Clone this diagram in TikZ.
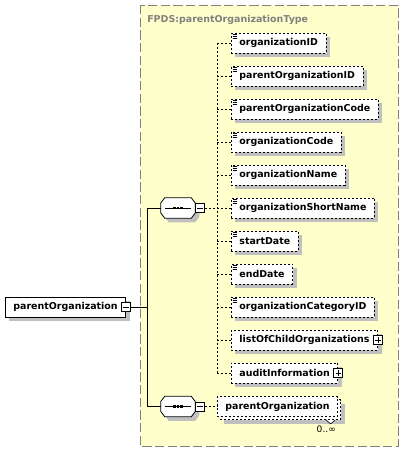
\documentclass[tikz,border=0pt]{standalone}
\usepackage{fontspec}
\setmainfont{DejaVu Sans}
\usetikzlibrary{shadows}

\definecolor{typebg}{RGB}{255,255,204}
\definecolor{typeline}{RGB}{128,128,128}
\definecolor{shadowgray}{RGB}{192,192,192}

\tikzset{
  boxfont/.style={font=\fontsize{7.1}{8}\selectfont\bfseries},
  boxshadow/.style={drop shadow={shadow xshift=3pt, shadow yshift=-3pt, fill=shadowgray, opacity=1}},
  elembase/.style={draw, fill=white, anchor=west, minimum height=15pt,
    inner xsep=6pt, inner ysep=0pt, line width=0.6pt, boxfont},
  elem/.style={elembase, dash pattern=on 1.5pt off 1.5pt, boxshadow},
  rootelem/.style={elembase, boxshadow},
  repelem/.style={elembase, dash pattern=on 1.5pt off 1.5pt,
    drop shadow={shadow xshift=5.25pt, shadow yshift=-5.25pt, fill=shadowgray, opacity=1},
    copy shadow={shadow xshift=2.25pt, shadow yshift=-2.25pt}},
  seqbox/.style={rectangle, minimum width=25.5pt, minimum height=15pt, inner sep=0pt},
  seqline/.style={draw, fill=white, line width=0.6pt, boxshadow},
  minusbox/.style={draw, fill=white, minimum size=6.75pt, inner sep=0pt, line width=0.5pt,
    path picture={\draw ([xshift=1.3pt]path picture bounding box.west) -- ([xshift=-1.3pt]path picture bounding box.east);}},
  plusbox/.style={minusbox,
    path picture={\draw ([xshift=1.3pt]path picture bounding box.west) -- ([xshift=-1.3pt]path picture bounding box.east);
      \draw ([yshift=-1.3pt]path picture bounding box.north) -- ([yshift=1.3pt]path picture bounding box.south);}},
  link/.style={line width=0.6pt, dash pattern=on 1.5pt off 1.5pt},
  trunkline/.style={line width=0.6pt},
  typebox/.style={fill=typebg, draw=typeline, line width=0.75pt, dash pattern=on 7pt off 2.5pt},
  typetitle/.style={boxfont, text=typeline, anchor=west, inner sep=0pt},
  occurs/.style={font=\fontsize{6.8}{7}\selectfont, inner sep=0pt}
}

\begin{document}
\begin{tikzpicture}[x=0.75pt, y=-0.75pt]
    \useasboundingbox (0,0) rectangle (405,451);

    % Typ-Rahmen
    \draw[typebox] (140,5) rectangle (398,446);
    \node[typetitle] (title) at (147,20) {FPDS:parentOrganizationType};

    % Wurzelelement
    \node[rootelem] (root) at (5,307) {parentOrganization\hspace{3.75pt}};
    \node[minusbox] (rootm) at (root.east) {};

    % Sequenzen
    \node[seqbox] (s1) at (178,208) {};
    \node[seqbox] (s2) at (178,406.5) {};
    \foreach \s in {s1,s2} {
        \draw[seqline] ([xshift=3pt]\s.north west) -- ([xshift=-3pt]\s.north east)
            -- ([yshift=-4pt]\s.north east) -- ([yshift=4pt]\s.south east)
            -- ([xshift=-3pt]\s.south east) -- ([xshift=3pt]\s.south west)
            -- ([yshift=4pt]\s.south west) -- ([yshift=-4pt]\s.north west) -- cycle;
        \draw[line width=0.6pt] ([xshift=3pt]\s.west) -- ([xshift=-3pt]\s.east);
        \foreach \d in {-2.6,0,2.6}
            \fill ([xshift=\d pt]\s.center) ++(-0.85pt,-0.85pt) rectangle ++(1.7pt,1.7pt);
    }
    \node[minusbox, anchor=west] (m1) at (s1.east) {};
    \node[minusbox, anchor=west] (m2) at (s2.east) {};

    % einfache Elemente
    \foreach \n/\t/\y in {oid/organizationID/43, poid/parentOrganizationID/76,
        pocode/parentOrganizationCode/109, ocode/organizationCode/142,
        oname/organizationName/175, oshort/organizationShortName/208,
        sdate/startDate/241, edate/endDate/274, ocat/organizationCategoryID/307} {
        \node[elem] (\n) at (231,\y) {\t};
        \foreach \k in {1,2.6,4.2}
            \draw[line width=0.45pt] ([xshift=1.2pt,yshift=-\k pt]\n.north west) -- ++(4.5,0);
    }

    % komplexe Elemente
    \node[elem] (lchild) at (231,340) {listOfChildOrganizations\hspace{4pt}};
    \node[plusbox] (lchildp) at (lchild.east) {};
    \node[elem] (audit) at (231,373) {auditInformation\hspace{3pt}};
    \node[plusbox] (auditp) at (audit.east) {};

    % wiederholtes Element
    \node[repelem] (rep) at (217,406.5) {parentOrganization};
    \draw[line width=0.45pt, fill=white] ([shift={(-9pt,-2.25pt)}]rep.south east)
        -- ++(3.4pt,-3pt) -- ++(3.4pt,3pt);
    \node[occurs, anchor=north east] (occ) at ([shift={(-1.5pt,-6.5pt)}]rep.south east) {0..∞};

    % Verbindungen
    \coordinate (trunk) at (147,307);
    \coordinate (bus) at (217,208);
    \draw[trunkline] (rootm.east) -- (trunk);
    \draw[trunkline] (s1.west) -| (trunk);
    \draw[trunkline] (s2.west) -| (trunk);
    \draw[link] (m1.east) -- (bus);
    \draw[link] (oid.west -| bus) -- (audit.west -| bus);
    \foreach \n in {oid,poid,pocode,ocode,oname,oshort,sdate,edate,ocat,lchild,audit}
        \draw[link] (\n.west -| bus) -- (\n.west);
    \draw[link] (m2.east) -- (rep.west);
\end{tikzpicture}
\end{document}
